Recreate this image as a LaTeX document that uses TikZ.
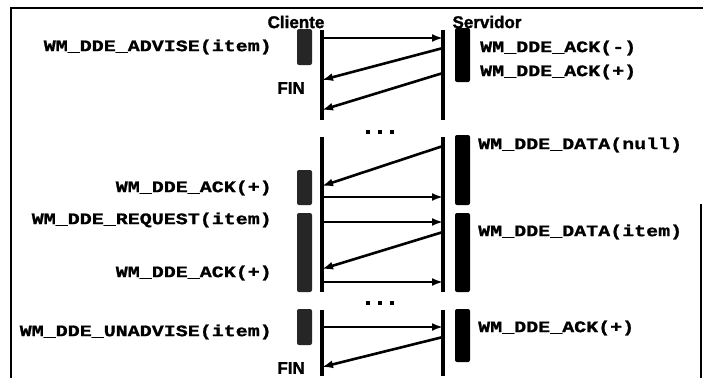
\documentclass[tikz,border=0pt]{standalone}
\usepackage{fontspec}
\usetikzlibrary{arrows.meta}
\newfontfamily\monob[FakeStretch=1.25, FakeBold=1.2]{Liberation Mono}
\newfontfamily\sansb[FakeBold=1.5]{Liberation Sans}
\tikzset{
  msg/.style={font=\monob\bfseries\fontsize{16}{18}\selectfont, inner sep=0pt},
  hdr/.style={font=\sansb\bfseries\fontsize{17}{19}\selectfont, inner sep=0pt},
  life/.style={line width=3.5pt},
  arr/.style={line width=2.6pt, -{Latex[length=11pt,width=8pt]}},
  sbar/.style={fill=black, rounded corners=2pt},
  cbar/.style={fill=black!85, rounded corners=2pt},
  frame/.style={line width=2.6pt},
  dotm/.style={fill=black, minimum size=3.5pt, inner sep=0pt}
}
\begin{document}
\begin{tikzpicture}[x=1pt,y=-1pt]
\useasboundingbox (0,0) rectangle (703,378);
% frame
\draw[frame] (703,8) -- (11,8) -- (11,378);
\draw[frame] (701,204) -- (701,378);
% headers
\node[hdr] (cli) at (296,22) {Cliente};
\node[hdr] (srv) at (487,22) {Servidor};
% lifelines
\draw[life] (322,30) -- (322,120);
\draw[life] (443,30) -- (443,120);
\draw[life] (322,137) -- (322,292);
\draw[life] (443,137) -- (443,292);
\draw[life] (322,310) -- (322,376);
\draw[life] (443,310) -- (443,376);
% server bars
\fill[sbar] (455,28) rectangle (470,82);
\fill[sbar] (455,135) rectangle (470,205);
\fill[sbar] (455,213) rectangle (470,292);
\fill[sbar] (455,309) rectangle (470,362);
% client bars
\fill[cbar] (297,29) rectangle (312,65);
\fill[cbar] (297,170) rectangle (312,205);
\fill[cbar] (297,213) rectangle (312,292);
\fill[cbar] (297,309) rectangle (312,345);
% dots
\node[dotm] (d1a) at (368,132) {};
\node[dotm] (d1b) at (380,132) {};
\node[dotm] (d1c) at (392,132) {};
\node[dotm] (d2a) at (368,303) {};
\node[dotm] (d2b) at (380,303) {};
\node[dotm] (d2c) at (392,303) {};
% endpoints
\coordinate (c1) at (322,38);  \coordinate (s1) at (443,38);
\coordinate (s2) at (443,48);  \coordinate (c2) at (322,80);
\coordinate (s3) at (443,73);  \coordinate (c3) at (322,110);
\coordinate (s4) at (443,146); \coordinate (c4) at (322,186);
\coordinate (c5) at (322,197); \coordinate (s5) at (443,197);
\coordinate (c6) at (322,222); \coordinate (s6) at (443,222);
\coordinate (s7) at (443,232); \coordinate (c7) at (322,269);
\coordinate (c8) at (322,282); \coordinate (s8) at (443,282);
\coordinate (c9) at (322,327); \coordinate (s9) at (443,327);
\coordinate (s10) at (443,337); \coordinate (c10) at (322,367);
% arrows
\draw[arr] (c1) -- (s1);
\draw[arr] (s2) -- (c2);
\draw[arr] (s3) -- (c3);
\draw[arr] (s4) -- (c4);
\draw[arr] (c5) -- (s5);
\draw[arr] (c6) -- (s6);
\draw[arr] (s7) -- (c7);
\draw[arr] (c8) -- (s8);
\draw[arr] (c9) -- (s9);
\draw[arr] (s10) -- (c10);
% labels
\node[msg, anchor=east] (l1) at (272,47) {WM\_DDE\_ADVISE(item)};
\node[hdr, anchor=east] (fin1) at (305,88) {FIN};
\node[msg, anchor=west] (r1) at (480,48) {WM\_DDE\_ACK(-)};
\node[msg, anchor=west] (r2) at (480,72) {WM\_DDE\_ACK(+)};
\node[msg, anchor=west] (r3) at (478,145) {WM\_DDE\_DATA(null)};
\node[msg, anchor=east] (l2) at (272,188) {WM\_DDE\_ACK(+)};
\node[msg, anchor=east] (l3) at (272,220) {WM\_DDE\_REQUEST(item)};
\node[msg, anchor=west] (r4) at (478,232) {WM\_DDE\_DATA(item)};
\node[msg, anchor=east] (l4) at (272,273) {WM\_DDE\_ACK(+)};
\node[msg, anchor=east] (l5) at (272,332) {WM\_DDE\_UNADVISE(item)};
\node[msg, anchor=west] (r5) at (478,328) {WM\_DDE\_ACK(+)};
\node[hdr, anchor=east] (fin2) at (305,368) {FIN};
\end{tikzpicture}
\end{document}
